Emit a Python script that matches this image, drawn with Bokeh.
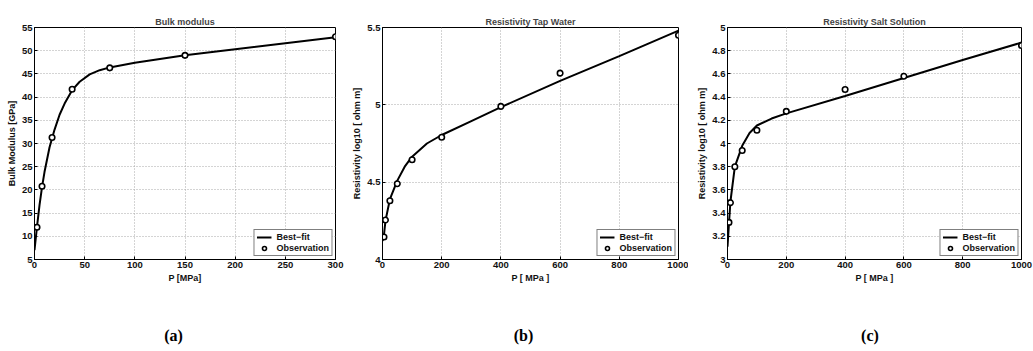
from bokeh.plotting import figure
from bokeh.layouts import row, column
from bokeh.models import Legend, LegendItem, FixedTicker, Range1d
from bokeh.core.properties import value
from bokeh.embed import file_html
from bokeh.resources import INLINE

# ---- (a) Bulk modulus ----
bulk_obs_p = [2.5, 7.5, 17.5, 37.5, 75, 150, 300]
bulk_obs_k = [11.95, 20.8, 31.3, 41.7, 46.3, 49.0, 53.0]
bulk_fit_p = [0, 2.5, 5, 7.5, 10, 15, 20, 25, 30, 37.5, 45, 55, 65, 75, 100, 150, 200, 250, 300]
bulk_fit_k = [7.0, 12.1, 16.7, 20.6, 23.9, 29.2, 33.0, 36.2, 38.6, 41.5, 43.3, 44.9, 45.8, 46.4, 47.4, 49.0, 50.3, 51.6, 52.9]

# ---- (b) Resistivity tap water ----
tap_obs_p = [5, 10, 25, 50, 100, 200, 400, 600, 1000]
tap_obs_r = [4.145, 4.255, 4.38, 4.49, 4.645, 4.79, 4.99, 5.205, 5.45]
tap_fit_p = [0, 5, 10, 25, 50, 75, 100, 150, 200, 300, 400, 600, 800, 1000]
tap_fit_r = [4.12, 4.16, 4.25, 4.39, 4.51, 4.60, 4.665, 4.75, 4.805, 4.895, 4.985, 5.155, 5.315, 5.48]

# ---- (c) Resistivity salt solution ----
salt_obs_p = [5, 10, 25, 50, 100, 200, 400, 600, 1000]
salt_obs_r = [3.32, 3.49, 3.80, 3.94, 4.114, 4.277, 4.465, 4.58, 4.845]
salt_fit_p = [0, 5, 10, 25, 50, 75, 100, 150, 200, 400, 600, 800, 1000]
salt_fit_r = [3.11, 3.31, 3.50, 3.80, 3.98, 4.09, 4.155, 4.215, 4.26, 4.41, 4.565, 4.72, 4.87]

panel_tags = ["(a)", "(b)", "(c)"]

FONT = "Liberation Sans"


def make_panel(title, xlabel, ylabel, fit_x, fit_y, obs_x, obs_y, xr, yr,
               xticks, yticks, ytick_labels, w, h, bl, br, bt, bb):
    p = figure(width=w, height=h, output_backend="svg", toolbar_location=None,
               x_range=Range1d(*xr), y_range=Range1d(*yr),
               min_border_left=bl, min_border_right=br,
               min_border_top=bt, min_border_bottom=bb)
    p.background_fill_color = "white"
    p.border_fill_color = "white"
    p.outline_line_color = "black"
    p.outline_line_width = 1

    p.title.text = title
    p.title.align = "center"
    p.title.text_font = FONT
    p.title.text_font_size = "9px"
    p.title.text_font_style = "bold"
    p.title.standoff = 2

    for ax in (p.xaxis[0], p.yaxis[0]):
        ax.axis_line_color = "black"
        ax.major_tick_in = 3
        ax.major_tick_out = 0
        ax.minor_tick_line_color = None
        ax.major_label_text_font = FONT
        ax.major_label_text_font_size = "9.5px"
        ax.major_label_text_font_style = "bold"
        ax.major_label_text_color = "#111111"
        ax.axis_label_text_font = FONT
        ax.axis_label_text_font_size = "9px"
        ax.axis_label_text_font_style = "bold"
        ax.axis_label_text_color = "#111111"
        ax.major_label_standoff = 2
        ax.axis_label_standoff = 2

    p.xaxis.axis_label = xlabel
    p.yaxis.axis_label = ylabel
    p.xaxis.ticker = FixedTicker(ticks=xticks)
    p.yaxis.ticker = FixedTicker(ticks=yticks)
    p.yaxis.major_label_overrides = {t: s for t, s in zip(yticks, ytick_labels)}

    for g in (p.xgrid[0], p.ygrid[0]):
        g.grid_line_color = "#a8a8a8"
        g.grid_line_dash = "1 2"
        g.grid_line_width = 1

    r_fit = p.line(fit_x, fit_y, line_color="black", line_width=2)
    r_obs = p.scatter(obs_x, obs_y, marker="circle", size=5.5, line_color="black",
                      line_width=1.6, fill_color="white")

    leg = Legend(items=[LegendItem(label="Best\u2212fit", renderers=[r_fit]),
                        LegendItem(label="Observation", renderers=[r_obs])],
                 location="bottom_right")
    leg.border_line_color = "black"
    leg.border_line_width = 1
    leg.background_fill_alpha = 1
    leg.label_text_font = FONT
    leg.label_text_font_size = "9px"
    leg.label_text_font_style = "bold"
    leg.label_text_color = "#111111"
    leg.glyph_width = 15
    leg.glyph_height = 10
    leg.label_height = 10
    leg.spacing = 1
    leg.padding = 2
    leg.margin = 3
    leg.label_standoff = 5
    p.add_layout(leg)
    return p


def make_tag(tag, w, x_off):
    t = figure(width=w, height=40, output_backend="svg", toolbar_location=None,
               x_range=Range1d(0, 1), y_range=Range1d(0, 1),
               min_border=0, min_border_left=0, min_border_right=0,
               min_border_top=0, min_border_bottom=0)
    t.axis.visible = False
    t.grid.visible = False
    t.outline_line_color = None
    t.text(x=[0.5], y=[0.4], text=[tag], x_offset=x_off,
           text_align="center", text_baseline="middle",
           text_font=value("Liberation Serif"), text_font_size="16px",
           text_font_style="bold", text_color="black")
    return t


MAIN_H = 311

pa = make_panel("Bulk modulus", "P [MPa]", "Bulk Modulus [GPa]",
                bulk_fit_p, bulk_fit_k, bulk_obs_p, bulk_obs_k,
                (0, 300), (5, 55),
                [0, 50, 100, 150, 200, 250, 300],
                [5, 10, 15, 20, 25, 30, 35, 40, 45, 50, 55],
                ["5", "10", "15", "20", "25", "30", "35", "40", "45", "50", "55"],
                344, MAIN_H, 34, 9, 22, 52)

pb = make_panel("Resistivity Tap Water", "P [ MPa ]", "Resistivity log10 [ ohm m]",
                tap_fit_p, tap_fit_r, tap_obs_p, tap_obs_r,
                (0, 1000), (4, 5.5),
                [0, 200, 400, 600, 800, 1000],
                [4, 4.5, 5, 5.5],
                ["4", "4.5", "5", "5.5"],
                344, MAIN_H, 38, 10, 26, 52)

pc = make_panel("Resistivity Salt Solution", "P [ MPa ]", "Resistivity log10 [ ohm m]",
                salt_fit_p, salt_fit_r, salt_obs_p, salt_obs_r,
                (0, 1000), (3, 5),
                [0, 200, 400, 600, 800, 1000],
                [3, 3.2, 3.4, 3.6, 3.8, 4, 4.2, 4.4, 4.6, 4.8, 5],
                ["3", "3.2", "3.4", "3.6", "3.8", "4", "4.2", "4.4", "4.6", "4.8", "5"],
                345, MAIN_H, 39, 12, 27, 52)

ta = make_tag(panel_tags[0], 344, 1)
tb = make_tag(panel_tags[1], 344, 7)
tc = make_tag(panel_tags[2], 345, 9)

layout = column(row(pa, pb, pc, spacing=0), row(ta, tb, tc, spacing=0), spacing=0)
open("out.html", "w").write(file_html(layout, INLINE))
